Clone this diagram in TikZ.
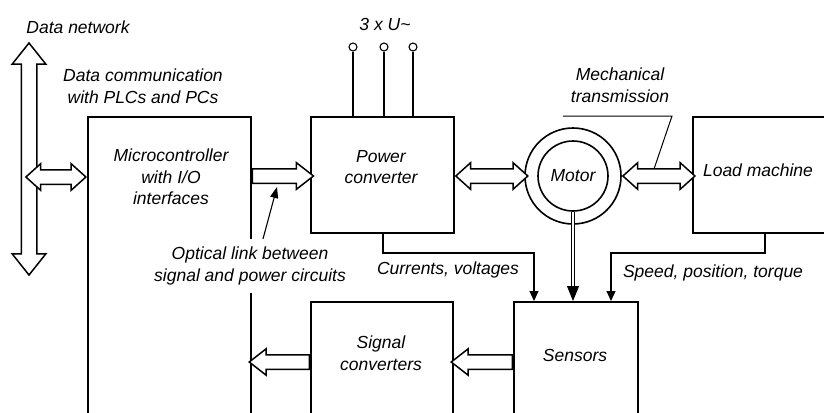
\documentclass[tikz,border=0pt]{standalone}
\usepackage{fontspec}
\setmainfont{Liberation Sans}
\usetikzlibrary{shapes.arrows,arrows.meta}

\begin{document}
\begin{tikzpicture}[x=1pt,y=-1pt,
  box/.style={draw,line width=1.7pt,inner sep=0pt,anchor=north west},
  lbl/.style={font=\fontsize{17.5}{21.5}\selectfont\itshape,align=center,inner sep=1pt},
  sarrow/.style={single arrow,draw,fill=white,line width=1.5pt,inner xsep=0pt,inner ysep=6.5pt,single arrow head extend=6pt,single arrow tip angle=76,minimum height=#1,anchor=tail},
  darrow/.style={double arrow,draw,fill=white,line width=1.5pt,inner xsep=0pt,inner ysep=6.5pt,double arrow head extend=6pt,double arrow tip angle=84,minimum height=#1},
  sig/.style={line width=1.1pt,-{Triangle[length=10pt,width=9pt]}},
  shaft/.style={double,double distance=1.5pt,line width=1pt,-{Triangle[length=15pt,width=12pt]}}]
\useasboundingbox (0,0) rectangle (824,412);
\clip (0,0) rectangle (824,412);
\node[box,minimum width=163,minimum height=320] (mc) at (87,116) {};
\node[box,minimum width=143,minimum height=116] (pc) at (310,116) {};
\node[box,minimum width=160,minimum height=116] (load) at (692,116) {};
\node[box,minimum width=142,minimum height=130] (sc) at (310,301) {};
\node[box,minimum width=124,minimum height=130] (sens) at (513,301) {};
\node[circle,draw,line width=1.6pt,minimum size=96,inner sep=0pt] (mout) at (573,176) {};
\node[circle,draw,line width=1.6pt,minimum size=70,inner sep=0pt,lbl] (motor) at (573,176) {Motor};
\node[lbl] (mctxt) at (171,177) {Microcontroller\\with I/O\\interfaces};
\node[lbl] (pctxt) at (381,167) {Power\\converter};
\node[lbl] (loadtxt) at (758,170) {Load machine};
\node[lbl] (sctxt) at (381,353) {Signal\\converters};
\node[lbl] (senstxt) at (575,355) {Sensors};
\node[lbl] (supply) at (385,24) {3 x U\textasciitilde};
\foreach \px in {353,384,413}{
  \node[circle,draw,line width=1.1pt,minimum size=8,inner sep=0pt] (t\px) at (\px,47) {};
  \draw[line width=1.8pt] (t\px) -- (\px,0 |- pc.north);
}
\node[darrow=232,rotate=90,inner ysep=7pt,double arrow head extend=9pt,double arrow tip angle=77] (bus) at (29,159) {};
\node[darrow=60,anchor=east] (a0) at (mc.west |- 0,177) {};
\node[sarrow=61] (a1) at (mc.east |- 0,176) {};
\node[darrow=72,anchor=west] (a2) at (pc.east |- 0,176) {};
\node[darrow=72,anchor=west] (a3) at (mout.east) {};
\node[sarrow=61,rotate=180] (a4) at (sens.west |- 0,362) {};
\node[sarrow=60,rotate=180] (a5) at (sc.west |- 0,362) {};
\draw[shaft] (motor.south) -- (motor.south |- sens.north);
\draw[sig] (383,0 |- pc.south) |- (534,253) -- (534,0 |- sens.north);
\draw[sig] (765,0 |- load.south) |- (611,253) -- (611,0 |- sens.north);
\node[lbl] (datanet) at (78,27) {Data network};
\node[lbl] (datacom) at (143,86) {Data communication\\with PLCs and PCs};
\node[lbl] (mech) at (620,85) {Mechanical\\transmission};
\coordinate (mechend) at (654,169);
\draw[line width=1pt] (563,116) -- (672,116) -- (mechend);
\node[lbl] (curr) at (448,270) {Currents, voltages};
\node[lbl] (speed) at (713,273) {Speed, position, torque};
\node[lbl,fill=white,inner xsep=2pt,inner ysep=8pt] (opt) at (250,266) {Optical link between\\signal and power circuits};
\coordinate (optend) at (277,187);
\draw[line width=1.1pt,-{Triangle[length=11pt,width=8pt]}] ([xshift=13pt]opt.north) -- (optend);
\end{tikzpicture}
\end{document}
